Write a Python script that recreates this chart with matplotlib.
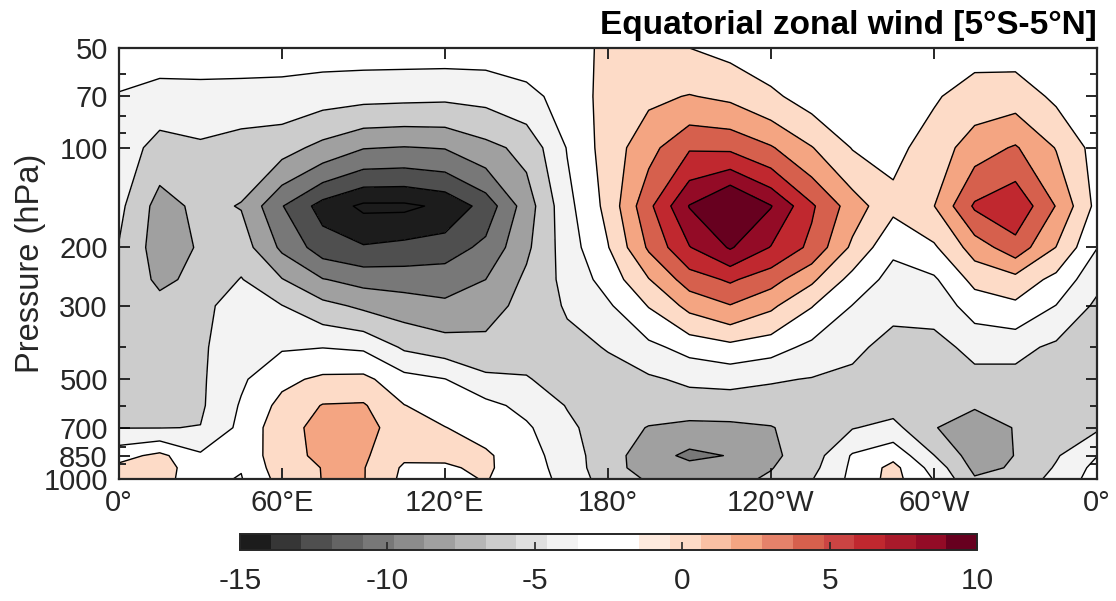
import numpy as np
import matplotlib
matplotlib.use("Agg")
import matplotlib.pyplot as plt
from matplotlib.colors import ListedColormap, Normalize
from matplotlib.cm import ScalarMappable
from matplotlib.ticker import FixedLocator, NullFormatter, FixedFormatter

plt.rcParams['font.family'] = ['Liberation Sans', 'DejaVu Sans']
plt.rcParams['axes.unicode_minus'] = False

# grid: longitude (deg east) and pressure (hPa)
lon = [0, 15, 30, 45, 60, 75, 90, 105, 120, 135, 150, 165, 180,
       195, 210, 225, 240, 255, 270, 285, 300, 315, 330, 345, 360]
plev = [1000, 925, 850, 700, 600, 500, 400, 300, 250, 200, 150, 100, 70, 50]

# zonal wind (m/s), one row per pressure level
u_1000 = [0.9, 1.0, -1.6, -2.1, 0.8, 2.05, 2.1, -0.5, -0.5, 0.1, -1.0, -2.6, -5.0,
          -6.2, -6.6, -6.6, -5.7, -4.1, -1.5, 0.7, -2.1, -5.8, -5.2, -3.4, -1.1]
u_925 = [0.5, 1.2, -1.6, -1.9, 1.2, 2.05, 2.1, -0.3, -0.2, 0.3, -1.1, -2.8, -5.3,
         -6.8, -7.3, -7.2, -6.1, -4.6, -1.6, 0.6, -2.8, -6.5, -5.8, -3.8, -1.4]
u_850 = [-0.7, 0.5, -1.7, -1.7, 1.5, 2.3, 2.3, 0.4, 0.3, 0.3, -1.2, -3.0, -5.2,
         -7.0, -8.5, -7.9, -6.4, -5.0, -1.8, -0.6, -3.95, -7.0, -5.95, -4.2, -2.05]
u_700 = [-4.05, -4.05, -3.95, -1.5, 1.3, 2.6, 2.8, 0.8, 0.05, -0.8, -1.7, -3.6, -5.0,
         -6.1, -6.5, -6.4, -6.1, -5.1, -4.1, -3.4, -5.9, -7.0, -5.9, -4.7, -4.3]
u_600 = [-4.3, -4.4, -4.3, -1.8, 0.6, 2.1, 2.2, 0.05, -0.9, -1.4, -2.6, -4.1, -4.8,
         -5.0, -5.0, -5.0, -5.0, -4.6, -4.7, -4.8, -5.7, -5.8, -5.3, -4.8, -4.6]
u_500 = [-4.5, -4.6, -4.3, -2.3, -0.5, 0.4, 0.5, -1.3, -1.95, -3.6, -3.9, -4.6, -4.6,
         -4.3, -3.6, -3.4, -3.8, -4.1, -4.4, -5.0, -5.3, -4.6, -4.6, -4.7, -4.8]
u_400 = [-4.6, -4.8, -4.3, -2.8, -2.2, -2.05, -2.3, -4.3, -5.0, -5.3, -4.6, -4.5, -3.9,
         -2.5, -1.3, -0.6, -1.2, -2.5, -3.6, -4.6, -4.7, -3.4, -3.4, -4.4, -4.7]
u_300 = [-4.6, -5.4, -4.4, -3.3, -3.95, -5.4, -6.4, -7.0, -7.6, -7.0, -5.2, -3.8, -2.3,
         0.1, 2.6, 3.9, 2.4, 0.1, -2.05, -3.5, -3.2, -1.1, -0.4, -2.05, -4.4]
u_250 = [-4.5, -6.4, -5.5, -3.9, -5.9, -7.9, -8.7, -8.9, -8.9, -8.0, -5.6, -3.4, -1.2,
         1.9, 5.0, 6.3, 4.8, 2.4, -0.7, -2.7, -2.3, 0.6, 1.3, -0.6, -3.4]
u_200 = [-4.1, -7.0, -5.8, -5.0, -8.4, -11.0, -11.8, -11.4, -11.0, -9.5, -6.4, -3.0, -0.1,
         4.3, 7.9, 10.2, 7.9, 5.5, 1.6, -1.6, -0.3, 2.9, 5.2, 1.95, -1.95]
u_150 = [-3.5, -6.8, -5.5, -6.1, -9.9, -12.8, -14.4, -14.4, -13.6, -11.2, -7.0, -2.6, 0.6,
         5.5, 10.1, 13.0, 10.1, 6.3, 3.0, 0.5, 1.95, 6.3, 7.6, 3.9, -0.6]
u_100 = [-2.8, -4.8, -4.3, -4.9, -5.2, -6.6, -7.9, -8.1, -7.9, -6.6, -5.4, -1.9, 0.9,
         3.3, 5.8, 5.6, 4.2, 2.1, -0.1, -0.5, 0.8, 3.1, 4.2, 1.9, -0.8]
u_70 = [-2.1, -2.7, -2.7, -2.7, -2.8, -3.2, -3.4, -3.5, -3.6, -3.4, -2.6, -1.2, 0.7,
        1.6, 2.1, 1.6, 0.4, -0.9, -1.2, -1.2, -0.2, 0.8, 1.1, -0.4, -1.0]
u_50 = [-1.2, -1.0, -0.9, -1.0, -1.0, -1.0, -1.0, -1.0, -1.0, -1.0, -0.8, -0.8, 0.4,
        1.2, 0.0, -0.6, -1.3, -1.5, -1.7, -1.4, -1.0, -0.7, -0.9, -1.1, -1.2]

xtick_vals = [0, 60, 120, 180, 240, 300, 360]
xtick_labels = ['0°', '60°E', '120°E', '180°', '120°W', '60°W', '0°']
ytick_major = [50, 70, 100, 200, 300, 500, 700, 850, 1000]
ytick_minor = [60, 80, 90, 400, 600, 800, 900]
cbar_ticks = [-15, -10, -5, 0, 5, 10]

# 24-colour gray/red map spanning -15..10 (as in the colour bar)
cbar_colors = ['#1c1c1c', '#363636', '#4f4f4f', '#646464', '#787878', '#8c8c8c',
               '#a0a0a0', '#b6b6b6', '#cccccc', '#e0e0e0', '#f3f3f3', '#ffffff',
               '#ffffff', '#fdeade', '#fddbc7', '#f9c0a4', '#f4a582', '#e5826a',
               '#d6604d', '#cb4443', '#c0282f', '#a91a2b', '#930b26', '#67001f']
cmin, cmax = -15, 10

u = np.array([u_1000, u_925, u_850, u_700, u_600, u_500, u_400,
              u_300, u_250, u_200, u_150, u_100, u_70, u_50])

fill_levels = np.arange(-16, 16, 2)
line_levels = np.arange(-14, 12, 2)

# colour of each band picked from its lower level, like matlab contourf
ncol = len(cbar_colors)
band_colors = []
for lev in fill_levels[:-1]:
    idx = int(np.floor((lev - cmin) / (cmax - cmin) * ncol))
    band_colors.append(cbar_colors[min(max(idx, 0), ncol - 1)])

fig = plt.figure(figsize=(11.16, 6.01), dpi=100)
ax = fig.add_axes([0.1066, 0.2030, 0.8763, 0.7171])

ax.contourf(lon, plev, u, levels=fill_levels, colors=band_colors)
ax.contour(lon, plev, u, levels=line_levels, colors='k', linewidths=1.0,
           linestyles='solid')

ax.set_yscale('log')
ax.set_ylim(1000, 50)
ax.set_xlim(0, 360)

ax.yaxis.set_major_locator(FixedLocator(ytick_major))
ax.yaxis.set_major_formatter(FixedFormatter([str(v) for v in ytick_major]))
ax.yaxis.set_minor_locator(FixedLocator(ytick_minor))
ax.yaxis.set_minor_formatter(NullFormatter())
ax.set_xticks(xtick_vals)
ax.set_xticklabels(xtick_labels)

dark = '#262626'
ax.tick_params(which='both', direction='in', top=True, right=True,
               colors=dark, labelcolor=dark, width=1.4)
ax.tick_params(which='major', length=8, labelsize=21)
ax.tick_params(which='minor', length=5)
ax.tick_params(axis='x', pad=7)
ax.tick_params(axis='y', pad=8)
for s in ax.spines.values():
    s.set_linewidth(1.6)
    s.set_color(dark)

ax.set_ylabel('Pressure (hPa)', fontsize=23.5, color=dark, labelpad=-2)
ax.set_title('Equatorial zonal wind [5°S-5°N]', loc='right', fontsize=24,
             fontweight='bold', pad=10)

cax = fig.add_axes([0.2151, 0.0849, 0.6604, 0.0266])
sm = ScalarMappable(norm=Normalize(cmin, cmax), cmap=ListedColormap(cbar_colors))
cb = fig.colorbar(sm, cax=cax, orientation='horizontal', ticks=cbar_ticks)
cb.outline.set_linewidth(1.4)
cb.outline.set_edgecolor(dark)
cax.tick_params(direction='in', length=6, width=1.2, colors=dark,
                labelcolor=dark, labelsize=21.5, pad=12)
cb.set_ticklabels([str(t) for t in cbar_ticks])

fig.savefig('out.png', dpi=100)
